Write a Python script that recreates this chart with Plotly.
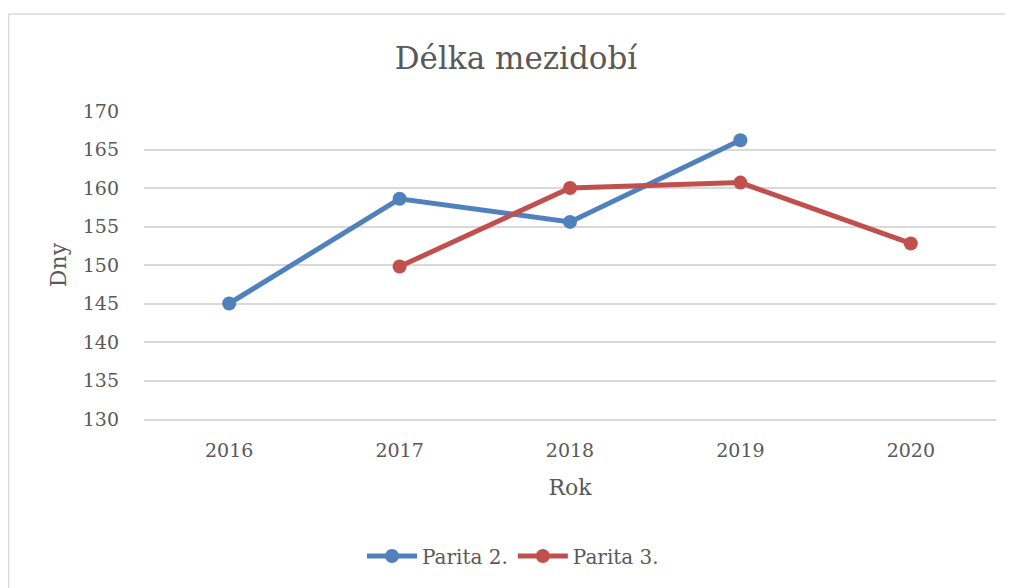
import plotly.graph_objects as go

years = ["2016", "2017", "2018", "2019", "2020"]
parita2 = [145.0, 158.6, 155.6, 166.2, None]
parita3 = [None, 149.8, 160.0, 160.7, 152.8]
yticks = [130, 135, 140, 145, 150, 155, 160, 165, 170]

FONT = "DejaVu Serif"
GRAY = "#595959"

fig = go.Figure()
fig.add_trace(go.Scatter(x=years, y=parita2, name="Parita 2.", mode="lines+markers",
                         line=dict(color="#4F81BD", width=5),
                         marker=dict(size=14, color="#4F81BD")))
fig.add_trace(go.Scatter(x=years, y=parita3, name="Parita 3.", mode="lines+markers",
                         line=dict(color="#C0504D", width=5),
                         marker=dict(size=14, color="#C0504D")))

OFF = 8  # page body margin
W, H = 1005, 580
L, R, T, B = 136, 17, 103, 169
pw = W - L - R
ph = H - T - B

def px(x):  # page x -> paper
    return (x - OFF - L) / pw

def py(y):  # page y -> paper
    return (H - B - (y - OFF)) / ph

fig.update_layout(
    width=W, height=H,
    margin=dict(l=L, r=R, t=T, b=B),
    paper_bgcolor="white", plot_bgcolor="white",
    font=dict(family=FONT, color=GRAY, size=19),
    title=dict(text="Délka mezidobí", x=(516 - OFF) / W, xref="container", xanchor="center",
               y=1 - (58 - OFF) / H, yref="container", yanchor="middle",
               font=dict(family=FONT, size=31, color=GRAY)),
    xaxis=dict(type="category", range=[-0.5, 4.5], showgrid=False, zeroline=False,
               showline=True, linecolor="#D9D9D9", linewidth=1.5, ticks="",
               ticklabelstandoff=13, tickfont=dict(size=19, color=GRAY),
               title=dict(text="Rok", font=dict(size=22, color=GRAY), standoff=20)),
    yaxis=dict(range=[130, 170], tickvals=yticks, showgrid=True, gridcolor="#D9D9D9",
               gridwidth=1.5, zeroline=False, showline=False, ticks="",
               ticklabelstandoff=24, tickfont=dict(size=19, color=GRAY),
               title=dict(text="Dny", font=dict(size=22, color=GRAY), standoff=10)),
    legend=dict(orientation="h", x=px(513), xanchor="center", y=py(556), yanchor="middle",
                font=dict(size=20, color=GRAY), itemwidth=50, bgcolor="rgba(0,0,0,0)"),
    showlegend=True,
)

# chart area border (top and left edges visible)
fig.add_shape(type="line", xref="paper", yref="paper",
              x0=px(8.5), x1=px(1020), y0=py(14), y1=py(14),
              line=dict(color="#D9D9D9", width=1.5))
fig.add_shape(type="line", xref="paper", yref="paper",
              x0=px(8.5), x1=px(8.5), y0=py(14), y1=py(600),
              line=dict(color="#D9D9D9", width=1.5))

fig.write_html("out.html")
